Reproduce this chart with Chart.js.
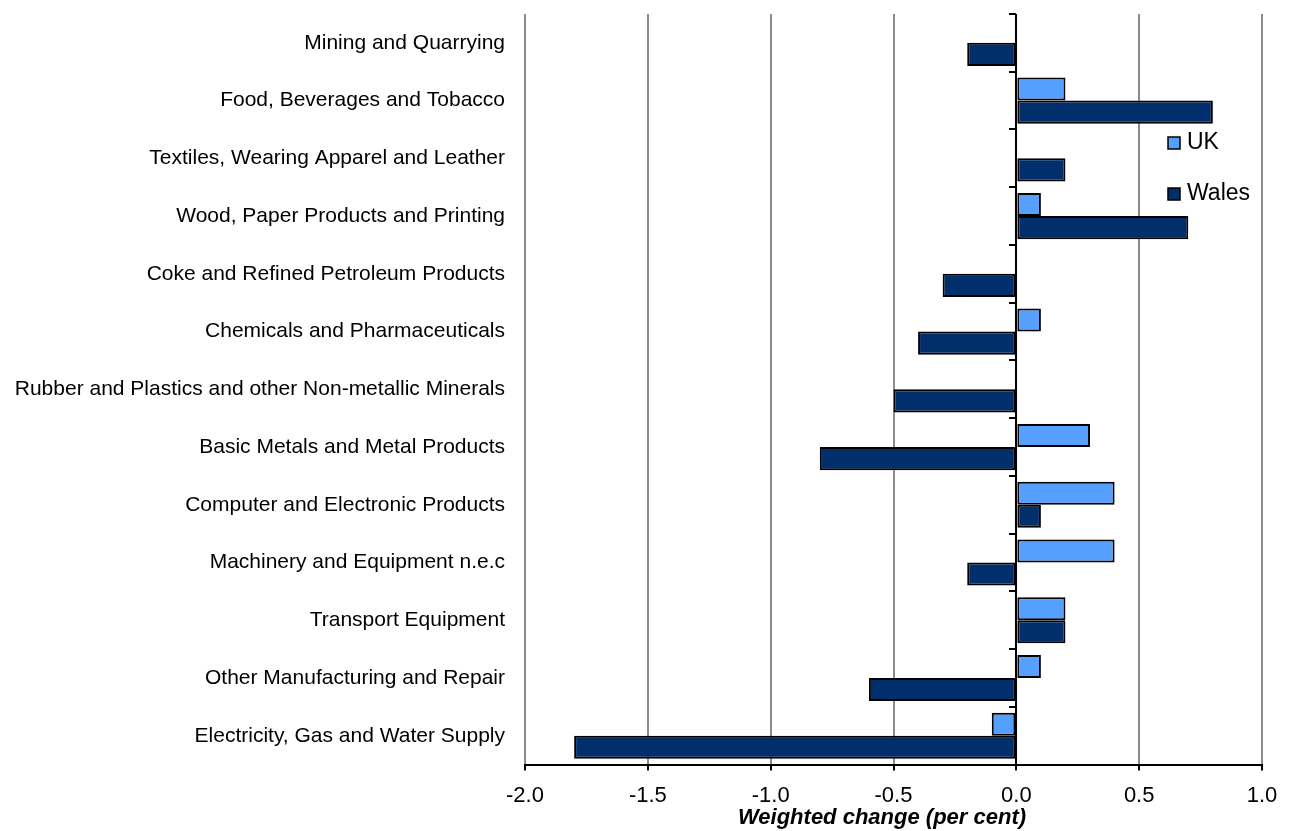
<!DOCTYPE html>
<html>
<head>
<meta charset="utf-8">
<script src="https://cdn.jsdelivr.net/npm/chart.js@4"></script>
<style>
  html, body { margin: 0; padding: 0; background: #fff; }
  #wrap { width: 1291px; height: 831px; }
</style>
</head>
<body>
<div id="wrap"><canvas id="industryChart"></canvas></div>
<script>
// categories, top to bottom
var sectors = [
    'Mining and Quarrying',
    'Food, Beverages and Tobacco',
    'Textiles, Wearing Apparel and Leather',
    'Wood, Paper Products and Printing',
    'Coke and Refined Petroleum Products',
    'Chemicals and Pharmaceuticals',
    'Rubber and Plastics and other Non-metallic Minerals',
    'Basic Metals and Metal Products',
    'Computer and Electronic Products',
    'Machinery and Equipment n.e.c',
    'Transport Equipment',
    'Other Manufacturing and Repair',
    'Electricity, Gas and Water Supply'
];
var ukValues    = [0, 0.2, 0, 0.1, 0, 0.1, 0, 0.3, 0.4, 0.4, 0.2, 0.1, -0.1];
var walesValues = [-0.2, 0.8, 0.2, 0.7, -0.3, -0.4, -0.5, -0.8, 0.1, -0.2, 0.2, -0.6, -1.8];
var xTicks = [-2.0, -1.5, -1.0, -0.5, 0.0, 0.5, 1.0];
var xTitle = 'Weighted change (per cent)';

var FONT = '"Liberation Sans", Arial, sans-serif';

// zero line with small category ticks, legend and axis title
var zeroAxisPlugin = {
    id: 'zeroAxis',
    afterDatasetsDraw: function (chart) {
        var ctx = chart.ctx;
        var x = Math.round(chart.scales.x.getPixelForValue(0));
        var area = chart.chartArea;
        ctx.save();
        ctx.strokeStyle = '#000';
        ctx.lineWidth = 2;
        ctx.beginPath();
        ctx.moveTo(x, area.top);
        ctx.lineTo(x, area.bottom);
        var step = (area.bottom - area.top) / sectors.length;
        for (var i = 0; i <= sectors.length; i++) {
            var ty = Math.round(area.top + i * step);
            ctx.moveTo(x - 7, ty);
            ctx.lineTo(x, ty);
        }
        ctx.stroke();

        // legend
        var items = [
            { label: 'UK', color: '#559FFF', y: 143 },
            { label: 'Wales', color: '#002F6C', y: 194 }
        ];
        ctx.font = '23px ' + FONT;
        ctx.textBaseline = 'middle';
        items.forEach(function (it) {
            ctx.fillStyle = it.color;
            ctx.fillRect(1168, it.y - 6, 12, 12);
            ctx.lineWidth = 1.5;
            ctx.strokeStyle = '#000';
            ctx.strokeRect(1168, it.y - 6, 12, 12);
            ctx.fillStyle = '#000';
            ctx.fillText(it.label, 1187, it.y);
        });

        // x axis title
        ctx.font = 'italic bold 22px ' + FONT;
        ctx.textAlign = 'center';
        ctx.fillText(xTitle, 882, area.bottom + 53);
        ctx.restore();
    }
};

var ctxInd = document.getElementById('industryChart').getContext('2d');
var industryChart = new Chart(ctxInd, {
    type: 'bar',
    data: {
        labels: sectors,
        datasets: [{
            label: 'UK',
            data: ukValues,
            backgroundColor: '#559FFF',
            borderColor: '#000',
            borderWidth: 2,
            borderSkipped: false
        }, {
            label: 'Wales',
            data: walesValues,
            backgroundColor: '#002F6C',
            borderColor: '#000',
            borderWidth: 2,
            borderSkipped: false
        }]
    },
    options: {
        indexAxis: 'y',
        responsive: true,
        maintainAspectRatio: false,
        animation: false,
        layout: { padding: { top: 14, right: 29, left: 0, bottom: 10 } },
        categoryPercentage: 0.8,
        barPercentage: 1.0,
        plugins: {
            legend: { display: false },
            tooltip: { enabled: false }
        },
        scales: {
            x: {
                type: 'linear',
                min: -2,
                max: 1,
                afterBuildTicks: function (scale) {
                    scale.ticks = xTicks.map(function (v) { return { value: v }; });
                },
                ticks: {
                    color: '#000',
                    font: { family: FONT, size: 22 },
                    padding: 12,
                    callback: function (v) { return Number(v).toFixed(1); }
                },
                grid: {
                    color: function (c) { return c.tick && c.tick.value === 0 ? '#000' : '#8c8c8c'; },
                    lineWidth: 2,
                    tickColor: '#000',
                    tickLength: 6
                },
                border: { display: true, color: '#000', width: 2 }
            },
            y: {
                type: 'category',
                grid: { display: false },
                border: { display: false },
                ticks: {
                    color: '#000',
                    font: { family: FONT, size: 21 },
                    padding: 12,
                    autoSkip: false
                },
                afterFit: function (scale) {
                    scale.width = 525;
                    scale.paddingTop = 0;
                    scale.paddingBottom = 0;
                }
            }
        }
    },
    plugins: [zeroAxisPlugin]
});
</script>
</body>
</html>
